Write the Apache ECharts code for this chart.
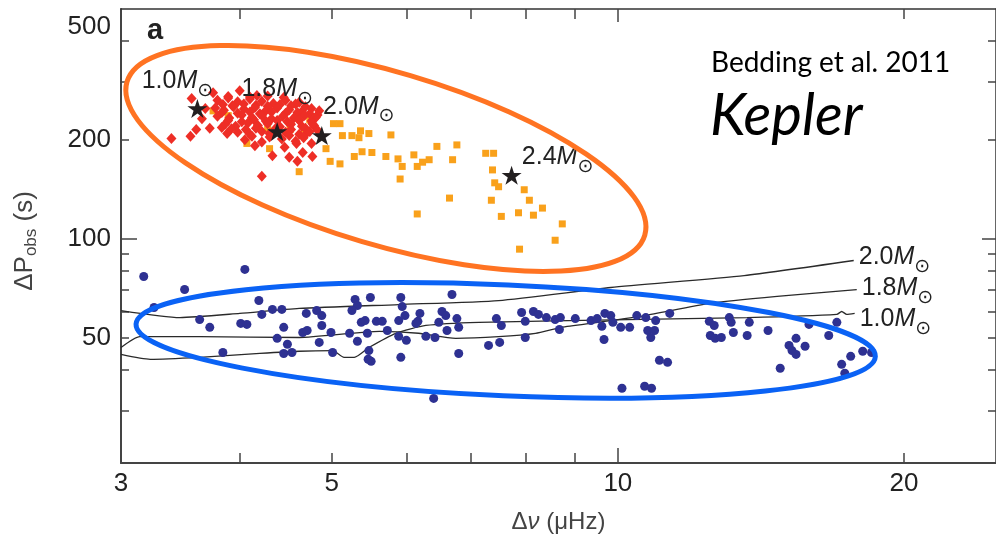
<!DOCTYPE html>
<html>
<head>
<meta charset="utf-8">
<script src="https://cdn.jsdelivr.net/npm/echarts@6/dist/echarts.min.js"></script>
<style>
  html, body { margin: 0; padding: 0; background: #fff; }
  #chart { width: 996px; height: 540px; }
</style>
</head>
<body>
<div id="chart"></div>
<script>
// Observed period spacing of mixed modes against large frequency separation (log-log)

// ---- axis ticks and labels ----
const xTickValues = [4, 5, 6, 7, 8, 9, 20];
const xDecadeTicks = [10];
const xLabelValues = [3, 5, 10, 20];
const yTickValues = [30, 40, 50, 60, 70, 80, 90, 200, 300, 400];
const yDecadeTicks = [100];
const yLabelValues = [50, 100, 200, 500];

// ---- helium-core-burning stars (red diamonds) ----
const clumpStars = [
  [3.39, 202], [3.55, 205], [3.56, 267], [3.60, 215], [3.65, 232], [3.72, 217], [3.83, 218],
  [3.88, 209], [4.15, 192], [4.33, 179], [4.46, 190], [4.51, 177], [4.59, 195], [4.60, 172],
  [4.66, 183], [4.77, 178], [4.76, 195], [4.68, 206], [4.22, 155], [3.75, 278], [4.00, 282],
  [4.17, 273], [4.62, 260], [3.68, 249], [4.62, 229], [4.85, 245], [4.79, 221],
  [3.89, 271], [4.10, 270], [4.28, 272], [4.45, 269],
  [3.79, 264], [3.89, 268], [3.98, 261], [4.10, 266], [4.22, 262], [4.34, 258], [4.47, 264], [4.58, 257],
  [3.84, 256], [3.93, 254], [4.04, 257], [4.16, 255], [4.28, 253], [4.41, 256], [4.53, 254], [4.69, 252],
  [3.77, 250], [3.85, 246], [3.94, 252], [4.04, 248], [4.15, 251], [4.26, 245], [4.38, 250],
  [4.51, 247], [4.65, 244], [4.76, 249],
  [3.83, 242], [3.98, 241], [4.10, 243], [4.20, 240], [4.32, 243], [4.47, 241], [4.60, 242],
  [4.74, 240], [4.83, 238],
  [3.79, 236], [3.90, 233], [4.02, 238], [4.12, 234], [4.22, 237], [4.32, 232], [4.44, 236],
  [4.56, 233], [4.68, 237], [4.81, 234],
  [3.89, 229], [4.02, 227], [4.14, 230], [4.26, 228], [4.38, 229], [4.49, 227], [4.62, 230], [4.76, 228],
  [3.86, 223], [3.96, 220], [4.08, 225], [4.18, 221], [4.28, 224], [4.41, 219], [4.53, 223],
  [4.65, 220], [4.77, 224],
  [3.92, 216], [4.06, 215], [4.16, 217], [4.36, 216], [4.53, 215], [4.69, 217], [4.83, 214],
  [3.98, 211], [4.10, 208], [4.22, 212], [4.30, 209], [4.47, 211], [4.62, 208], [4.74, 212],
  [4.12, 205], [4.30, 204], [4.51, 206], [4.67, 203],
  [4.05, 200], [4.22, 197], [4.43, 201], [4.58, 198]
];

// ---- secondary-clump stars (orange squares) ----
const secondaryClump = [
  [3.75, 245], [3.89, 237], [4.07, 195], [4.28, 216], [4.30, 188], [4.52, 215], [4.68, 216],
  [4.74, 230], [4.62, 160], [4.93, 188], [4.98, 172], [5.02, 224], [5.10, 224], [5.10, 169],
  [5.13, 206], [5.25, 206], [5.28, 178], [5.34, 203], [5.36, 213], [5.38, 184], [5.47, 209],
  [5.51, 183], [5.70, 178], [5.77, 207], [5.87, 175], [5.93, 166], [5.90, 152], [6.10, 180],
  [6.15, 166], [6.23, 171], [6.33, 174], [6.45, 191], [6.65, 133], [6.70, 174], [6.77, 193],
  [6.15, 119], [7.26, 182], [7.40, 182], [7.38, 162], [7.42, 148], [7.49, 144], [7.36, 131],
  [7.54, 117], [7.86, 120], [7.97, 141], [8.07, 131], [8.15, 118], [8.33, 124], [8.74, 111],
  [8.59, 99], [7.88, 93]
];

// ---- hydrogen-shell-burning stars (blue circles) ----
const shellBurning = [
  [3.17, 76.8], [4.05, 80.7], [3.50, 70.1], [3.25, 61.8], [4.19, 64.9], [3.63, 56.8], [3.72, 53.8],
  [4.01, 55.3], [4.07, 54.9], [4.22, 58.9], [4.33, 61.0], [4.43, 61.0], [4.45, 53.8], [4.38, 49.8],
  [4.49, 47.8], [4.45, 44.8], [4.54, 45.1], [3.84, 45.1], [4.70, 59.3], [4.82, 60.5], [4.88, 58.4],
  [4.88, 54.5], [4.85, 48.4], [4.66, 51.9], [4.71, 52.6], [4.99, 51.9], [5.01, 45.1], [5.29, 65.4],
  [5.32, 62.7], [5.25, 60.5], [5.49, 66.3], [5.37, 55.7], [5.42, 56.4], [5.22, 51.6], [5.32, 48.8],
  [5.45, 51.6], [5.47, 45.7], [5.50, 42.4], [5.46, 43.0], [5.57, 56.1], [5.65, 56.1], [5.72, 52.6],
  [5.91, 66.3], [5.93, 62.2], [5.88, 56.4], [5.97, 58.4], [5.88, 50.5], [5.99, 49.1], [5.91, 43.6],
  [6.28, 50.5], [6.42, 50.1], [6.40, 32.7], [6.69, 67.7], [6.53, 60.1], [6.59, 58.4], [6.19, 59.3],
  [6.16, 56.1], [6.13, 55.3], [6.48, 55.7], [6.61, 52.6], [6.77, 57.2], [6.80, 53.8], [6.80, 44.8],
  [7.31, 47.4], [7.45, 57.2], [7.51, 48.4], [7.54, 54.5], [7.92, 59.7], [7.99, 56.1], [7.99, 50.1],
  [8.15, 60.1], [8.25, 58.9], [8.41, 57.6], [8.59, 56.8], [8.70, 57.6], [8.68, 53.0], [9.02, 57.2],
  [9.37, 56.4], [9.51, 57.2], [9.62, 54.2], [9.69, 59.3], [9.83, 58.4], [9.88, 55.7], [10.07, 53.8],
  [10.29, 53.8], [9.67, 49.4], [10.47, 58.4], [10.70, 57.6], [10.96, 56.4], [10.75, 52.6],
  [10.83, 50.1], [10.93, 52.6], [11.34, 59.3], [10.10, 35.1], [10.67, 35.6], [10.85, 35.1],
  [11.06, 42.7], [11.28, 42.1], [12.48, 56.1], [12.63, 54.5], [12.51, 50.8], [12.66, 49.8],
  [12.85, 50.1], [13.10, 57.6], [13.16, 55.7], [13.23, 51.9], [13.68, 50.8], [13.75, 55.7],
  [14.39, 52.6], [14.82, 40.4], [15.14, 47.4], [15.25, 45.7], [15.40, 44.5], [15.40, 49.8],
  [15.74, 47.1], [15.89, 54.9], [16.67, 50.8], [17.00, 55.7], [17.20, 41.5], [17.33, 39.0],
  [17.58, 43.9], [18.10, 45.5], [18.49, 45.1]
];

// ---- model clump stars (black stars) ----
const modelStars = [[3.61, 249], [4.38, 212], [4.88, 206], [7.73, 156]];
const modelStarMasses = ['1.0', '1.8', '2.0', '2.4'];

// ---- model tracks for shell-burning stars ----
const track20 = [
  [3.00, 60.5], [3.46, 57.6], [4.00, 59.3], [4.62, 61.4], [5.88, 63.1], [7.49, 64.9],
  [9.83, 71.1], [13.58, 77.3], [17.71, 85.9]
];
const track18 = [
  [3.00, 46.7], [3.14, 50.4], [3.63, 50.4], [4.62, 50.1], [5.61, 52.3], [6.17, 51.6],
  [6.75, 49.8], [7.49, 50.4], [8.19, 51.6], [8.72, 53.8], [9.53, 55.7], [10.67, 58.4],
  [12.51, 63.6], [14.71, 66.8], [17.84, 70.1]
];
const track10 = [
  [3.00, 44.5], [3.22, 43.0], [3.63, 43.6], [4.20, 44.8], [4.62, 45.5], [5.01, 45.7],
  [5.15, 43.6], [5.28, 43.6], [5.47, 46.7], [5.84, 51.6], [6.28, 54.5], [7.14, 55.7],
  [10.24, 56.8], [13.68, 57.6], [17.00, 58.9], [17.20, 60.1], [17.41, 58.9], [17.75, 59.3]
];
const trackMasses = ['2.0', '1.8', '1.0'];

// ---- annotation rings (centres in data units) ----
const clumpRingCenter = [5.70, 175.5];
const branchRingCenter = [7.62, 49.1];

// ---------------------------------------------------------------
const FONT = 'Liberation Sans';
const INK = '#222';
const STAR_PATH = 'path://M50,0 L61.23,34.55 L97.55,34.55 L68.17,55.9 L79.39,90.45 L50,69.1 L20.61,90.45 L31.83,55.9 L2.45,34.55 L38.77,34.55 Z';

const massRich = {
  n: { fontFamily: FONT, fontSize: 25, color: INK, lineHeight: 38 },
  m: { fontFamily: FONT, fontSize: 25, fontStyle: 'italic', color: INK, lineHeight: 38 },
  s: { fontFamily: 'DejaVu Sans', fontSize: 19, color: INK, lineHeight: 16, verticalAlign: 'bottom' }
};
const massText = m => `{n|${m}}{m|M}{s|⊙}`;

const starLabelOffsets = [[-20, -27], [0, -42], [37, -29], [46, -18]];
const trackLabelOffsets = [[0, -3], [0, -1], [0, 6]];

const logX = { type: 'log', logBase: 10, min: 3, max: 25, splitLine: { show: false } };
const logY = { type: 'log', logBase: 10, min: 20.8, max: 500, splitLine: { show: false } };
const tickStyle = { color: '#444', width: 1.5 };

const chart = echarts.init(document.getElementById('chart'), null, { renderer: 'canvas' });

const option = {
  animation: false,
  backgroundColor: '#fff',
  grid: { left: 121, top: 9, width: 879, height: 454, containLabel: false },
  xAxis: [
    {
      ...logX, position: 'bottom',
      axisLine: { show: true, lineStyle: { color: '#444', width: 2 } },
      axisTick: { show: true, inside: true, length: 10, customValues: xTickValues, lineStyle: tickStyle },
      axisLabel: {
        show: true, customValues: xLabelValues, margin: 8,
        fontFamily: FONT, fontSize: 26, color: INK
      },
      name: '{a|Δ}{i|ν}{a| (μHz)}',
      nameLocation: 'middle', nameGap: 47,
      nameTextStyle: {
        rich: {
          a: { fontFamily: FONT, fontSize: 24, color: '#444' },
          i: { fontFamily: FONT, fontSize: 24, color: '#444', fontStyle: 'italic' }
        }
      }
    },
    {
      ...logX, position: 'top',
      axisLine: { show: true, lineStyle: { color: '#333', width: 1.5 } },
      axisTick: { show: true, inside: true, length: 10, customValues: xTickValues, lineStyle: tickStyle },
      axisLabel: { show: false }
    },
    {
      ...logX, position: 'bottom',
      axisLine: { show: false },
      axisTick: { show: true, inside: true, length: 15, customValues: xDecadeTicks, lineStyle: tickStyle },
      axisLabel: { show: false }
    },
    {
      ...logX, position: 'top',
      axisLine: { show: false },
      axisTick: { show: true, inside: true, length: 13, customValues: xDecadeTicks, lineStyle: tickStyle },
      axisLabel: { show: false }
    }
  ],
  yAxis: [
    {
      ...logY, position: 'left',
      axisLine: { show: true, lineStyle: { color: '#444', width: 2 } },
      axisTick: { show: true, inside: true, length: 8, customValues: yTickValues, lineStyle: tickStyle },
      axisLabel: {
        show: true, customValues: yLabelValues, margin: 10,
        fontFamily: FONT, fontSize: 26, color: INK,
        formatter: v => (Math.round(v) === 500 ? '{lo|500}' : String(Math.round(v))),
        rich: { lo: { fontFamily: FONT, fontSize: 26, color: INK, padding: [36, 0, 0, 0] } }
      },
      name: '{a|ΔP}{b|obs}{a| (s)}',
      nameLocation: 'middle', nameRotate: 90, nameGap: 81,
      nameTextStyle: {
        padding: [0, 10, 0, 0],
        rich: {
          a: { fontFamily: FONT, fontSize: 26, color: '#444', lineHeight: 30 },
          b: { fontFamily: FONT, fontSize: 17, color: '#444', lineHeight: 16, verticalAlign: 'bottom' }
        }
      }
    },
    {
      ...logY, position: 'right',
      axisLine: { show: true, lineStyle: { color: '#333', width: 1.5 } },
      axisTick: { show: true, inside: true, length: 8, customValues: yTickValues, lineStyle: tickStyle },
      axisLabel: { show: false }
    },
    {
      ...logY, position: 'left',
      axisLine: { show: false },
      axisTick: { show: true, inside: true, length: 16, customValues: yDecadeTicks, lineStyle: tickStyle },
      axisLabel: { show: false }
    },
    {
      ...logY, position: 'right',
      axisLine: { show: false },
      axisTick: { show: true, inside: true, length: 14, customValues: yDecadeTicks, lineStyle: tickStyle },
      axisLabel: { show: false }
    }
  ],
  series: [
    ...[track20, track18, track10].map((track, i) => ({
      type: 'line', data: track, z: 1,
      showSymbol: false, symbol: 'none', smooth: 0.2,
      lineStyle: { color: '#2a2a2a', width: 1.3 },
      endLabel: {
        show: true, distance: 5, offset: trackLabelOffsets[i],
        formatter: massText(trackMasses[i]), rich: massRich
      },
      silent: true
    })),
    {
      type: 'scatter', data: shellBurning, z: 3,
      symbol: 'circle', symbolSize: 9,
      itemStyle: { color: '#2e3192', opacity: 1 }
    },
    {
      type: 'scatter', data: secondaryClump, z: 3,
      symbol: 'rect', symbolSize: 7,
      itemStyle: { color: '#f9a11b', opacity: 1 }
    },
    {
      type: 'scatter', data: clumpStars, z: 4,
      symbol: 'diamond', symbolSize: [10, 11],
      itemStyle: { color: '#ee2e26', opacity: 1 }
    },
    {
      type: 'scatter', z: 5,
      data: modelStars.map((p, i) => ({
        value: p,
        label: {
          show: true, position: 'inside', offset: starLabelOffsets[i],
          formatter: massText(modelStarMasses[i]), rich: massRich
        }
      })),
      symbol: STAR_PATH, symbolSize: [20, 19],
      itemStyle: { color: '#231f20', opacity: 1 }
    }
  ]
};

chart.setOption(option);

// annotation rings and captions
const pc = chart.convertToPixel({ xAxisIndex: 0, yAxisIndex: 0 }, clumpRingCenter);
const pb = chart.convertToPixel({ xAxisIndex: 0, yAxisIndex: 0 }, branchRingCenter);
chart.setOption({
  graphic: [
    {
      type: 'ellipse', x: pc[0], y: pc[1], rotation: -16.5 * Math.PI / 180, z: 100,
      shape: { cx: 0, cy: 0, rx: 270, ry: 86.5 },
      style: { fill: null, stroke: '#ff7322', lineWidth: 5 }
    },
    {
      type: 'ellipse', x: pb[0], y: pb[1], rotation: -2.5 * Math.PI / 180, z: 100,
      shape: { cx: 0, cy: 0, rx: 370, ry: 55.5 },
      style: { fill: null, stroke: '#0a62f5', lineWidth: 5 }
    },
    {
      type: 'text', left: 711, top: 49, z: 100,
      style: { text: 'Bedding et al. 2011', font: '28px Lato', fill: '#000' }
    },
    {
      type: 'text', left: 710, top: 87, z: 100,
      style: { text: 'Kepler', font: 'italic 58px Lato', fill: '#000' }
    },
    {
      type: 'text', left: 147, top: 16, z: 100,
      style: { text: 'a', font: 'bold 29px "Liberation Sans"', fill: '#222' }
    }
  ]
});
</script>
</body>
</html>
